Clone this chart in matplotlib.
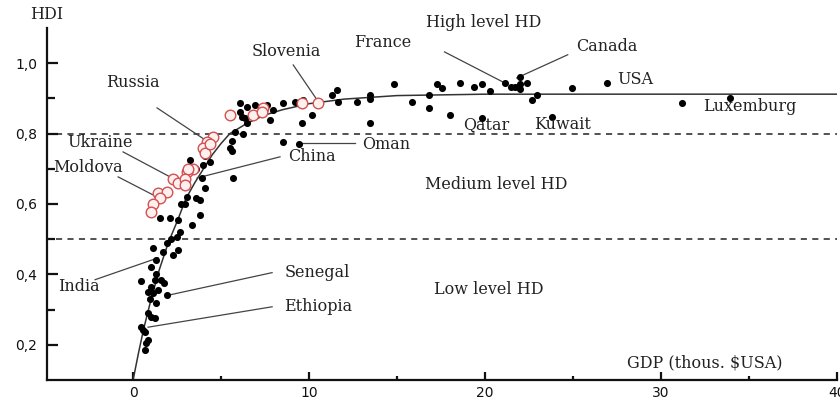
import numpy as np
import matplotlib.pyplot as plt

# GDP (thous. $USA) / HDI
black_gdp = [0.46, 1.23, 1.77, 0.85, 1.14, 1.42, 1.90, 0.95, 1.33, 0.85, 1.04, 1.23, 0.47, 0.66,
             0.85, 0.66, 1.04, 1.33, 0.57, 0.76, 1.61,
             1.14, 1.71, 1.90, 2.28, 1.33, 2.66, 2.47, 1.04, 1.52, 2.09, 2.56, 3.32, 3.80, 3.80,
             2.75, 3.04, 2.18, 2.56,
             6.07, 6.45, 6.93, 7.60, 6.17, 6.45, 7.78, 5.79, 6.26, 5.60, 5.50, 5.60, 4.08, 4.37,
             3.99, 3.23, 3.60, 3.89, 5.69, 4.08, 3.60, 2.94,
             8.54, 9.20, 9.68, 10.15, 9.58, 11.58, 11.29, 11.67, 12.72, 13.48, 13.48, 13.48,
             8.54, 9.40, 6.07, 6.36, 7.97,
             14.80, 16.80, 15.85, 16.80, 17.27, 17.56, 18.60, 19.36, 19.83, 20.30, 18.03, 19.83,
             21.16, 21.45, 21.73, 22.00, 22.00, 22.40, 22.00, 22.97, 22.68, 23.82, 24.96, 26.95,
             31.20, 33.90]
black_hdi = [0.380, 0.385, 0.376, 0.350, 0.348, 0.356, 0.342, 0.330, 0.320, 0.290, 0.280, 0.275,
             0.250, 0.237, 0.214, 0.186, 0.365, 0.400, 0.243, 0.206, 0.385,
             0.476, 0.464, 0.490, 0.455, 0.440, 0.520, 0.507, 0.420, 0.560, 0.560, 0.555, 0.540,
             0.570, 0.610, 0.600, 0.620, 0.500, 0.470,
             0.887, 0.876, 0.880, 0.880, 0.848, 0.830, 0.840, 0.805, 0.800, 0.780, 0.760, 0.750,
             0.735, 0.720, 0.710, 0.725, 0.700, 0.675, 0.675, 0.646, 0.618, 0.600,
             0.887, 0.890, 0.896, 0.853, 0.830, 0.924, 0.910, 0.890, 0.890, 0.910, 0.898, 0.830,
             0.777, 0.771, 0.860, 0.845, 0.867,
             0.940, 0.910, 0.890, 0.873, 0.940, 0.930, 0.944, 0.933, 0.940, 0.920, 0.853, 0.845,
             0.944, 0.933, 0.933, 0.940, 0.960, 0.944, 0.927, 0.910, 0.896, 0.848, 0.930, 0.944,
             0.887, 0.900]

# post-soviet countries (open red circles)
red_gdp = [5.50, 6.83, 7.40, 4.56, 4.18, 3.99, 4.08, 3.42, 3.04, 2.28, 2.56, 1.42, 1.90, 1.52,
           1.14, 1.04, 3.13, 2.94, 2.94, 9.58, 10.53, 4.37, 7.30]
red_hdi = [0.853, 0.853, 0.873, 0.790, 0.777, 0.760, 0.745, 0.700, 0.690, 0.670, 0.660, 0.630,
           0.635, 0.617, 0.600, 0.578, 0.700, 0.670, 0.655, 0.887, 0.887, 0.770, 0.860]

# fitted trend
curve_gdp = [0, 0.3, 0.6, 1.0, 1.5, 2.0, 2.5, 3.0, 3.5, 4.0, 4.5, 5.0, 5.5, 6.5, 7.5, 8.5,
             10, 12, 15, 20, 40]
curve_hdi = [0.10, 0.175, 0.245, 0.325, 0.415, 0.49, 0.55, 0.615, 0.66, 0.70, 0.74, 0.772,
             0.80, 0.83, 0.853, 0.868, 0.885, 0.898, 0.908, 0.912, 0.912]

level_lines = [0.8, 0.5]

xticks = [0, 10, 20, 30, 40]
yticks = [0.2, 0.4, 0.6, 0.8, 1.0]
ytick_labels = ["0,2", "0,4", "0,6", "0,8", "1,0"]

# label, x, y, horizontal alignment
labels = [
    ("Russia", 0.0, 0.944, "center"),
    ("Slovenia", 8.7, 1.032, "center"),
    ("France", 14.2, 1.060, "center"),
    ("High level HD", 19.9, 1.115, "center"),
    ("Canada", 26.9, 1.047, "center"),
    ("USA", 27.5, 0.953, "left"),
    ("Luxemburg", 32.4, 0.876, "left"),
    ("Qatar", 18.75, 0.825, "left"),
    ("Kuwait", 22.8, 0.825, "left"),
    ("Oman", 13.0, 0.768, "left"),
    ("China", 8.8, 0.734, "left"),
    ("Ukraine", -1.9, 0.774, "center"),
    ("Moldova", -4.55, 0.703, "left"),
    ("India", -4.26, 0.365, "left"),
    ("Senegal", 8.6, 0.405, "left"),
    ("Ethiopia", 8.6, 0.308, "left"),
    ("Medium level HD", 16.6, 0.655, "left"),
    ("Low level HD", 17.1, 0.356, "left"),
    ("GDP (thous. $USA)", 28.07, 0.149, "left"),
]

# leader lines: x0, y0, x1, y1
leaders = [
    (1.36, 0.873, 4.10, 0.782),
    (9.10, 0.995, 10.45, 0.896),
    (17.7, 1.032, 21.0, 0.947),
    (24.7, 1.024, 21.8, 0.958),
    (9.50, 0.774, 12.6, 0.774),
    (8.35, 0.734, 3.64, 0.674),
    (-0.57, 0.748, 2.10, 0.677),
    (-0.85, 0.677, 1.36, 0.620),
    (-2.16, 0.385, 1.42, 0.447),
    (7.90, 0.405, 2.10, 0.342),
    (7.90, 0.308, 0.85, 0.250),
]

fig = plt.figure(figsize=(8.4, 4.04), dpi=100)
ax = fig.add_axes([0.056, 0.0594, 0.9404, 0.8713])

for y in level_lines:
    ax.plot([-4.4, 40], [y, y], color="#222222", lw=1.1, dashes=(4, 3.5), zorder=1)

ax.plot(curve_gdp, curve_hdi, color="#333333", lw=1.1, zorder=2)

for x0, y0, x1, y1 in leaders:
    ax.plot([x0, x1], [y0, y1], color="#444444", lw=0.9, zorder=2)

ax.scatter(black_gdp, black_hdi, s=26, color="black", zorder=3, linewidths=0)
ax.scatter(red_gdp, red_hdi, s=58, facecolor="#fff0f0", edgecolor="#d45050",
           linewidths=1.0, zorder=4)

for text, x, y, ha in labels:
    ax.text(x, y, text, ha=ha, va="center", family="DejaVu Serif", fontsize=11.5,
            color="#222222", clip_on=False)

fig.text(0.055, 0.963, "HDI", ha="center", va="center", family="DejaVu Serif",
         fontsize=11.5, color="#222222")

ax.set_xlim(-4.89, 40)
ax.set_ylim(0.1, 1.1)
ax.set_xticks(xticks)
ax.set_xticks([5, 15, 25, 35], minor=True)
ax.set_yticks(yticks)
ax.set_yticklabels(ytick_labels)
ax.set_yticks([0.3, 0.5, 0.7, 0.9], minor=True)

for side in ("top", "right"):
    ax.spines[side].set_visible(False)
for side in ("left", "bottom"):
    ax.spines[side].set_linewidth(1.6)
    ax.spines[side].set_color("#111111")

ax.tick_params(axis="both", which="both", direction="in", colors="#111111",
               labelsize=10, width=1.6)
ax.tick_params(axis="y", which="major", length=8, pad=7)
ax.tick_params(axis="y", which="minor", length=6)
ax.tick_params(axis="x", which="major", length=6, pad=4)
ax.tick_params(axis="x", which="minor", length=3)

plt.savefig("out.png", dpi=100)
